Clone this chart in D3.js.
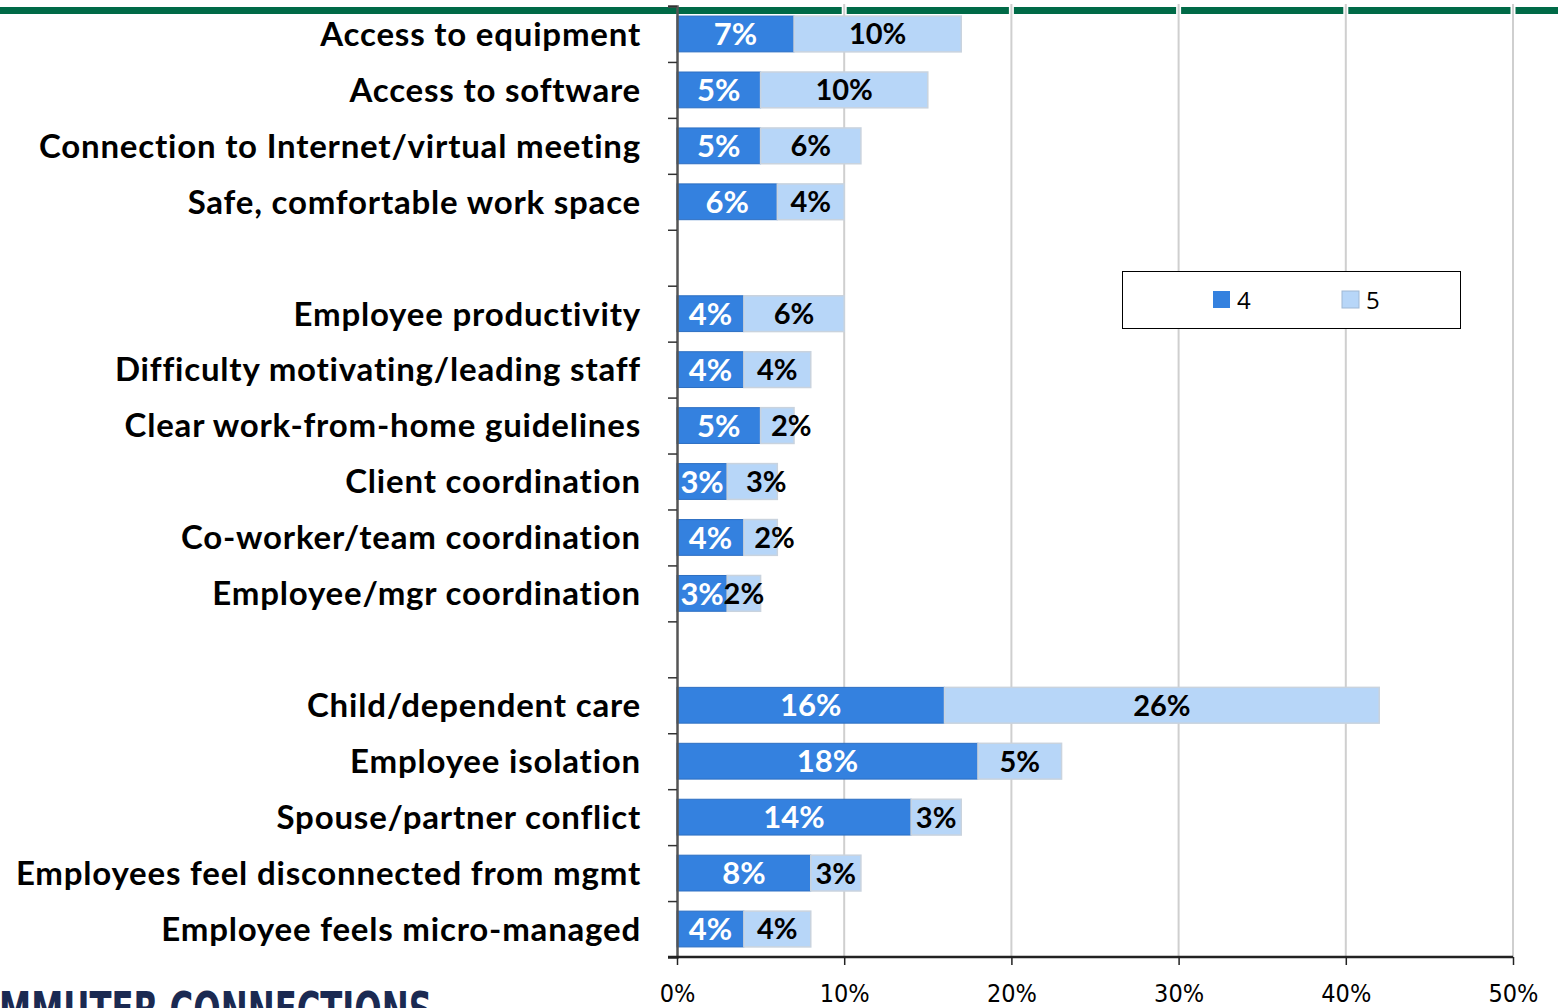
<!DOCTYPE html>
<html>
<head>
<meta charset="utf-8">
<script src="https://cdn.jsdelivr.net/npm/d3@7"></script>
<style>
  body { margin: 0; background: #fff; overflow: hidden; }
  svg { display: block; }
</style>
</head>
<body>
<svg width="1558" height="1008"></svg>
<script>
// slots, top to bottom; null = empty gap row
var categories = [
  "Access to equipment", "Access to software", "Connection to Internet/virtual meeting",
  "Safe, comfortable work space", null,
  "Employee productivity", "Difficulty motivating/leading staff", "Clear work-from-home guidelines",
  "Client coordination", "Co-worker/team coordination", "Employee/mgr coordination", null,
  "Child/dependent care", "Employee isolation", "Spouse/partner conflict",
  "Employees feel disconnected from mgmt", "Employee feels micro-managed"
];
var rating4 = [7, 5, 5, 6, null, 4, 4, 5, 3, 4, 3, null, 16, 18, 14, 8, 4];
var rating5 = [10, 10, 6, 4, null, 6, 4, 2, 3, 2, 2, null, 26, 5, 3, 3, 4];
var seriesNames = ["4", "5"];
var xTicks = [0, 10, 20, 30, 40, 50];

var colors = ["#3481df", "#b7d6f8"];
var svg = d3.select("svg");

var x = d3.scaleLinear().domain([0, 50]).range([677, 1513]);
var y = d3.scaleBand().domain(d3.range(categories.length)).range([6, 957])
  .paddingInner(0.36).paddingOuter(0.18);
var slot = d3.scaleLinear().domain([0, categories.length]).range([6, 957]);

// green band at top
svg.append("rect").attr("x", 0).attr("y", 7).attr("width", 1558).attr("height", 7).attr("fill", "#006a47");

// gridlines
var grid = svg.append("g");
grid.selectAll("line.w").data(xTicks.slice(1)).enter().append("line")
  .attr("x1", d => x(d)).attr("x2", d => x(d)).attr("y1", 4).attr("y2", 957)
  .attr("stroke", "#fff").attr("stroke-width", 5);
grid.selectAll("line.g").data(xTicks.slice(1)).enter().append("line")
  .attr("x1", d => x(d)).attr("x2", d => x(d)).attr("y1", 4).attr("y2", 957)
  .attr("stroke", "#cfcfcf").attr("stroke-width", 2);

// stacked bars
var rows = categories.map((c, i) => ({ i: i, c: c, a: rating4[i], b: rating5[i] })).filter(d => d.c);

var g = svg.append("g");
g.selectAll("rect.a").data(rows).enter().append("rect")
  .attr("x", x(0)).attr("y", d => y(d.i))
  .attr("width", d => x(d.a) - x(0)).attr("height", y.bandwidth())
  .attr("fill", colors[0]).attr("stroke", "#2d6fc2").attr("stroke-width", 1);
g.selectAll("rect.b").data(rows).enter().append("rect")
  .attr("x", d => x(d.a)).attr("y", d => y(d.i))
  .attr("width", d => x(d.a + d.b) - x(d.a)).attr("height", y.bandwidth())
  .attr("fill", colors[1]).attr("stroke", "#c9d3de").attr("stroke-width", 1.5);

// data labels
g.selectAll("text.a").data(rows).enter().append("text")
  .attr("x", d => (x(0) + x(d.a)) / 2).attr("y", d => y(d.i) + y.bandwidth() / 2)
  .attr("dy", "0.36em").attr("text-anchor", "middle")
  .style("font", "bold 31px Lato, sans-serif").style("fill", "#fff")
  .text(d => d.a + "%");
// light labels: nudged right on the short bars, as Excel did
g.selectAll("text.b").data(rows).enter().append("text")
  .attr("x", d => {
    var c = (x(d.a) + x(d.a + d.b)) / 2;
    return d.a <= 5 && d.b <= 3 && d.a + d.b >= 6 ? c + 14 : c;
  })
  .attr("y", d => y(d.i) + y.bandwidth() / 2)
  .attr("dy", "0.36em").attr("text-anchor", "middle")
  .style("font", "bold 29px Lato, sans-serif").style("fill", "#000")
  .text(d => d.b + "%");

// category labels
svg.append("g").selectAll("text").data(rows).enter().append("text")
  .attr("x", 641).attr("y", d => y(d.i) + y.bandwidth() / 2)
  .attr("dy", "0.36em").attr("text-anchor", "end")
  .style("font", "bold 33px Lato, sans-serif").style("letter-spacing", "0.8px").style("fill", "#000")
  .text(d => d.c);

// y axis (slot boundary ticks)
var yAxis = d3.axisLeft(slot).tickValues(d3.range(categories.length + 1)).tickSize(9).tickFormat("");
var ya = svg.append("g").attr("transform", "translate(677,0)").call(yAxis);
ya.select(".domain").attr("stroke", "#555").attr("stroke-width", 2.5);
ya.selectAll(".tick line").attr("stroke", "#333").attr("stroke-width", 1.5);

// x axis
var xAxis = d3.axisBottom(x).tickValues(xTicks).tickSize(8).tickPadding(19).tickFormat(d => d + "%");
var xa = svg.append("g").attr("transform", "translate(0,957)").call(xAxis);
xa.select(".domain").attr("stroke", "#222").attr("stroke-width", 2.5).attr("d", "M668,0H1513");
xa.selectAll(".tick line").attr("stroke", "#222").attr("stroke-width", 1.5);
xa.selectAll("text").style("font", "25px 'Liberation Sans Narrow', 'DejaVu Sans Condensed', sans-serif").style("fill", "#000");

// legend
var lg = svg.append("g");
lg.append("rect").attr("x", 1122.5).attr("y", 271.5).attr("width", 338).attr("height", 57)
  .attr("fill", "#fff").attr("stroke", "#000").attr("stroke-width", 1);
var items = lg.selectAll("g.item").data(seriesNames).enter().append("g")
  .attr("transform", (d, i) => "translate(" + (1213 + i * 129) + ",291)");
items.append("rect").attr("width", 17).attr("height", 17)
  .attr("fill", (d, i) => colors[i]).attr("stroke", (d, i) => i ? "#9fb8d4" : "none");
items.append("text").attr("x", 24).attr("y", 9).attr("dy", "0.36em")
  .style("font", "24px 'Open Sans', sans-serif").text(d => d);

// logo fragment at bottom-left, cut off by page edge
svg.append("text").attr("x", -52).attr("y", 1027)
  .attr("textLength", 484).attr("lengthAdjust", "spacingAndGlyphs")
  .style("font", "900 50px 'DejaVu Sans', sans-serif")
  .style("fill", "#1b2a52").text("COMMUTER CONNECTIONS");
</script>
</body>
</html>
